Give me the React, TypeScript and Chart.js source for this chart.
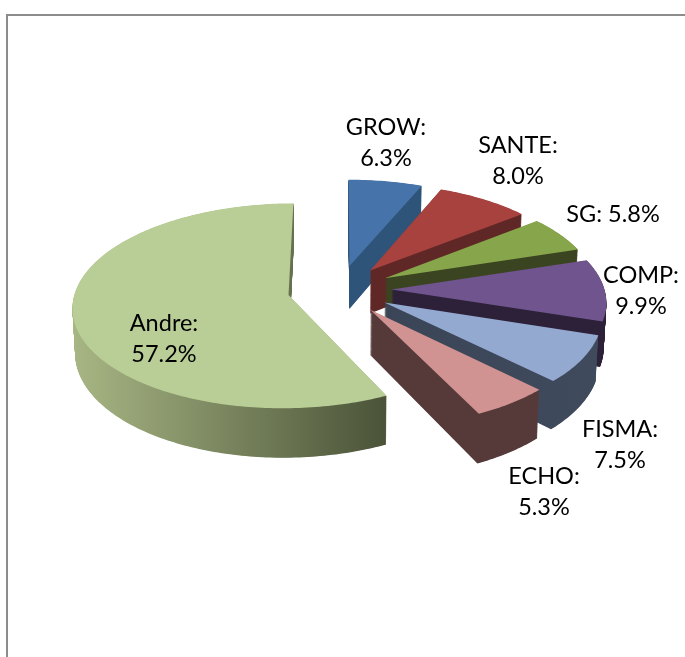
import React, { useEffect, useRef } from "react";
import { Chart, registerables } from "chart.js";

Chart.register(...registerables);

const categories = ["GROW", "SANTE", "SG", "COMP", "FISMA", "ECHO", "Andre"];
const shares = [6.3, 8.0, 5.8, 9.9, 7.5, 5.3, 57.2];
const topColors = ["#4673a9", "#a8423f", "#87a54b", "#6f548e", "#93a9d0", "#d19392", "#b9cd96"];
const wallColorsLeft = ["#2f5479", "#5f2725", "#3a4420", "#2d2039", "#3b4558", "#563a3a", "#a8b684"];
const wallColorsRight = ["#2f5479", "#5f2725", "#3a4420", "#2d2039", "#3f4a5c", "#563a3a", "#4a5338"];
// centre of each label's first line; second line follows below
const labelAnchors = [
  [386, 127], [518, 145], [613, 214], [641, 275], [620, 429], [544, 476], [164, 323],
];
const singleLine = [false, false, true, false, false, false, false];

const EXPLODE = 52;
const DEPTH = 44;
const PERSPECTIVE = 0.105;
const SQUASH = 0.47;

const pie3d = {
  id: "pie3d",
  beforeDatasetsDraw(chart: any) {
    const ctx: CanvasRenderingContext2D = chart.ctx;
    const arcs = chart.getDatasetMeta(0).data;
    arcs.forEach((el: any, i: number) => {
      const R = el.outerRadius;
      const mid = (el.startAngle + el.endAngle) / 2;
      const ox = Math.cos(mid) * EXPLODE;
      const oy = Math.sin(mid) * EXPLODE;
      const project = (u: number, v: number, z: number) => {
        const s = 1 / (1 - (PERSPECTIVE * v) / R);
        const shrink = 1 - (0.01 * z) / DEPTH;
        return [el.x + u * s * shrink, el.y + SQUASH * v * s + z * s];
      };
      const trace = (z: number) => {
        ctx.beginPath();
        const a = project(ox, oy, z);
        ctx.moveTo(a[0], a[1]);
        const steps = Math.max(8, Math.ceil(((el.endAngle - el.startAngle) * 180) / Math.PI));
        for (let k = 0; k <= steps; k++) {
          const t = el.startAngle + ((el.endAngle - el.startAngle) * k) / steps;
          const p = project(ox + Math.cos(t) * R, oy + Math.sin(t) * R, z);
          ctx.lineTo(p[0], p[1]);
        }
        ctx.closePath();
      };
      const xs: number[] = [];
      const steps = 24;
      for (let k = 0; k <= steps; k++) {
        const t = el.startAngle + ((el.endAngle - el.startAngle) * k) / steps;
        xs.push(project(ox + Math.cos(t) * R, oy + Math.sin(t) * R, 0)[0]);
      }
      xs.push(project(ox, oy, 0)[0]);
      const grad = ctx.createLinearGradient(Math.min(...xs), 0, Math.max(...xs), 0);
      grad.addColorStop(0, wallColorsLeft[i]);
      grad.addColorStop(1, wallColorsRight[i]);
      ctx.save();
      ctx.fillStyle = grad;
      for (let z = DEPTH; z > 0; z -= 0.5) {
        trace(z);
        ctx.fill();
      }
      trace(0);
      ctx.fillStyle = topColors[i];
      ctx.fill();
      ctx.restore();
    });
    return false;
  },
  afterDraw(chart: any) {
    const ctx: CanvasRenderingContext2D = chart.ctx;
    ctx.save();
    ctx.fillStyle = "#000";
    ctx.font = '23.5px Lato, "Open Sans", sans-serif';
    ctx.textAlign = "center";
    ctx.textBaseline = "middle";
    categories.forEach((name, i) => {
      const [x, y] = labelAnchors[i];
      const pct = `${shares[i].toFixed(1)}%`;
      if (singleLine[i]) {
        ctx.fillText(`${name}: ${pct}`, x, y);
      } else {
        ctx.fillText(`${name}:`, x, y);
        ctx.fillText(pct, x, y + 31);
      }
    });
    ctx.restore();
  },
};

export default function App() {
  const ref = useRef<HTMLCanvasElement>(null);
  useEffect(() => {
    const chart = new Chart(ref.current as HTMLCanvasElement, {
      type: "pie",
      data: {
        labels: categories,
        datasets: [{ data: shares, backgroundColor: topColors, borderWidth: 0, radius: 213 } as any],
      },
      options: {
        responsive: false,
        animation: false,
        layout: { padding: { left: 0, right: 6, top: 0, bottom: 78 } },
        plugins: { legend: { display: false }, tooltip: { enabled: false } },
      },
      plugins: [pie3d],
    } as any);
    return () => chart.destroy();
  }, []);
  return (
    <div style={{ position: "fixed", left: 0, top: 0, width: 685, height: 657, background: "#fff", overflow: "hidden" }}>
      <div
        style={{
          position: "absolute",
          left: 6,
          top: 14,
          right: 0,
          bottom: 0,
          borderTop: "2px solid #8c8c8c",
          borderLeft: "2px solid #8c8c8c",
        }}
      />
      <canvas ref={ref} width={685} height={657} style={{ position: "absolute", left: 0, top: 0 }} />
    </div>
  );
}
